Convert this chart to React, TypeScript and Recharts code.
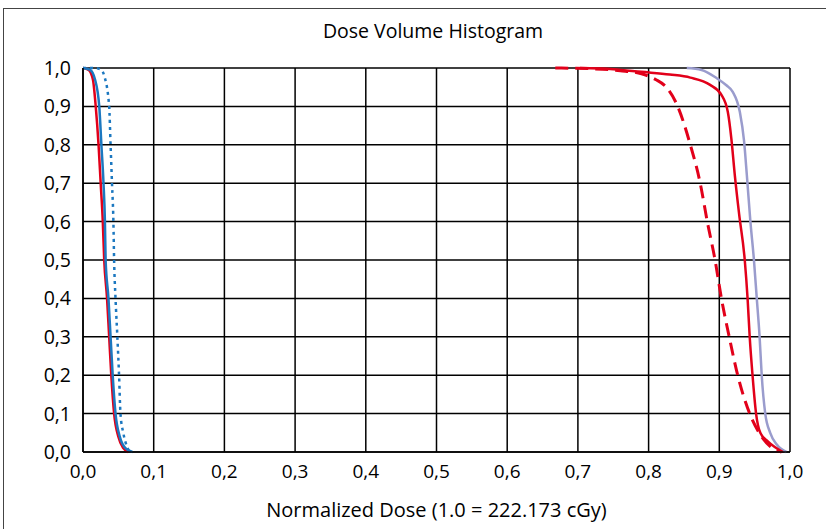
import { LineChart, Line, XAxis, YAxis, CartesianGrid, Label } from "recharts";

// dose (normalized) / volume pairs
const redLeftDose = [0, 0.008, 0.014, 0.018, 0.022, 0.025, 0.028, 0.03, 0.034, 0.037, 0.04, 0.044, 0.05, 0.057, 0.064];
const redLeftVol = [1, 0.995, 0.97, 0.9, 0.8, 0.7, 0.6, 0.5, 0.4, 0.3, 0.2, 0.1, 0.04, 0.01, 0];

const blueLeftDose = [0, 0.01, 0.017, 0.023, 0.026, 0.029, 0.031, 0.032, 0.036, 0.039, 0.042, 0.046, 0.052, 0.06, 0.07];
const blueLeftVol = [1, 0.995, 0.97, 0.9, 0.8, 0.7, 0.6, 0.5, 0.4, 0.3, 0.2, 0.1, 0.04, 0.01, 0];

const blueDotDose = [0, 0.017, 0.026, 0.03, 0.037, 0.039, 0.041, 0.043, 0.044, 0.046, 0.0486, 0.051, 0.053, 0.057, 0.062, 0.066];
const blueDotVol = [1, 1, 0.995, 0.98, 0.9, 0.8, 0.7, 0.6, 0.5, 0.4, 0.3, 0.2, 0.1, 0.05, 0.015, 0];

const redDashDose = [0.668, 0.72, 0.76, 0.79, 0.81, 0.825, 0.84, 0.859, 0.873, 0.883, 0.894, 0.903, 0.914, 0.926, 0.943, 0.96, 0.975, 0.988];
const redDashVol = [1, 0.998, 0.993, 0.985, 0.97, 0.95, 0.905, 0.8, 0.7, 0.6, 0.5, 0.4, 0.3, 0.2, 0.1, 0.04, 0.01, 0];

const redRightDose = [0.703, 0.75, 0.79, 0.83, 0.859, 0.887, 0.903, 0.912, 0.917, 0.922, 0.928, 0.936, 0.94, 0.943, 0.947, 0.952, 0.958, 0.969, 0.99];
const redRightVol = [1, 0.997, 0.99, 0.983, 0.975, 0.956, 0.93, 0.886, 0.817, 0.72, 0.62, 0.5, 0.4, 0.3, 0.2, 0.1, 0.05, 0.027, 0];

const lavDose = [0.854, 0.875, 0.896, 0.91, 0.919, 0.929, 0.935, 0.939, 0.944, 0.949, 0.953, 0.957, 0.96, 0.965, 0.972, 0.981, 0.995];
const lavVol = [1, 0.995, 0.974, 0.955, 0.938, 0.886, 0.81, 0.72, 0.6, 0.5, 0.4, 0.3, 0.2, 0.1, 0.05, 0.02, 0];

const ticks = [0, 0.1, 0.2, 0.3, 0.4, 0.5, 0.6, 0.7, 0.8, 0.9, 1];

const RED = "#e2001a";
const BLUE = "#1c78c0";
const LAVENDER = "#9a9ccd";
const FONT = "'Open Sans', sans-serif";

const toPoints = (dose: number[], vol: number[]) => dose.map((d, i) => ({ dose: d, vol: vol[i] }));

const fmt = (v: number) => v.toFixed(1).replace(".", ",");

const XTick = ({ x, y, payload }: { x?: number; y?: number; payload?: { value: number } }) => (
  <text x={x} y={(y ?? 0) + 24} textAnchor="middle" fill="#000" fontSize={19} fontFamily={FONT}>
    {fmt(payload?.value ?? 0)}
  </text>
);

const YTick = ({ x, y, payload }: { x?: number; y?: number; payload?: { value: number } }) => (
  <text x={(x ?? 0) - 10} y={(y ?? 0) + 7} textAnchor="end" fill="#000" fontSize={19.5} fontFamily={FONT}>
    {fmt(payload?.value ?? 0)}
  </text>
);

export default function App() {
  return (
    <div style={{ position: "absolute", left: 0, top: 0, width: 826, height: 529, background: "#fff", overflow: "hidden" }}>
      <div
        style={{
          position: "absolute", left: 3, top: 8, width: 900, height: 600,
          borderLeft: "1.5px solid #444", borderTop: "1.5px solid #444",
        }}
      />
      <div
        style={{
          position: "absolute", left: 0, width: 866, top: 17, textAlign: "center",
          fontFamily: FONT, fontSize: 19.5, color: "#000", lineHeight: "28px",
        }}
      >
        Dose Volume Histogram
      </div>
      <div style={{ position: "absolute", left: 0, top: 0 }}>
        <LineChart width={826} height={529} margin={{ top: 68, right: 36, bottom: 0, left: 0 }}>
          <CartesianGrid stroke="#000" strokeWidth={1.5} />
          <XAxis
            type="number"
            dataKey="dose"
            domain={[0, 1]}
            ticks={ticks}
            height={77}
            tickLine={false}
            tickSize={0}
            axisLine={{ stroke: "#000", strokeWidth: 1.5 }}
            tick={<XTick />}
            allowDataOverflow
          >
            <Label value="Normalized Dose (1.0 = 222.173 cGy)" position="insideBottom" offset={12} style={{ fill: "#000", fontSize: 20, fontFamily: FONT }} />
          </XAxis>
          <YAxis
            type="number"
            domain={[0, 1]}
            ticks={ticks}
            width={83}
            tickLine={false}
            tickSize={0}
            axisLine={{ stroke: "#000", strokeWidth: 1.5 }}
            tick={<YTick />}
          />
          <Line data={toPoints(lavDose, lavVol)} dataKey="vol" type="monotone" stroke={LAVENDER} strokeWidth={2.5} dot={false} isAnimationActive={false} />
          <Line data={toPoints(redDashDose, redDashVol)} dataKey="vol" type="monotone" stroke={RED} strokeWidth={3} strokeDasharray="13 7" dot={false} isAnimationActive={false} />
          <Line data={toPoints(redRightDose, redRightVol)} dataKey="vol" type="monotone" stroke={RED} strokeWidth={2.5} dot={false} isAnimationActive={false} />
          <Line data={toPoints(redLeftDose, redLeftVol)} dataKey="vol" type="monotone" stroke={RED} strokeWidth={2.5} dot={false} isAnimationActive={false} />
          <Line data={toPoints(blueLeftDose, blueLeftVol)} dataKey="vol" type="monotone" stroke={BLUE} strokeWidth={2.5} dot={false} isAnimationActive={false} />
          <Line data={toPoints(blueDotDose, blueDotVol)} dataKey="vol" type="monotone" stroke={BLUE} strokeWidth={2.5} strokeDasharray="3 4" dot={false} isAnimationActive={false} />
        </LineChart>
      </div>
    </div>
  );
}
